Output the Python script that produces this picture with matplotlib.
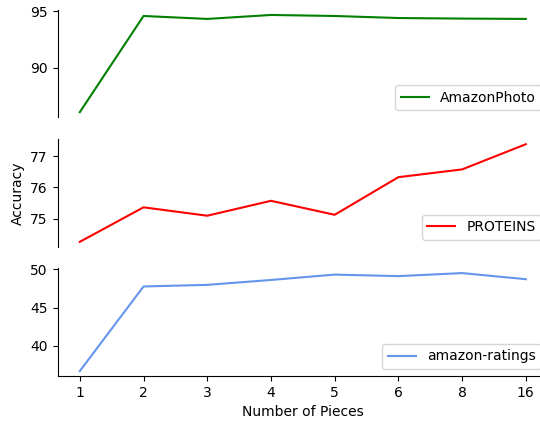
import numpy as np
import matplotlib
matplotlib.use("Agg")
import matplotlib.pyplot as plt

# Data
# =============================================================================
pieces = ['1', '2', '3', '4', '5', '6', '8', '16']

amazon_photo   = [86.05, 94.56, 94.3, 94.65, 94.56, 94.38, 94.33, 94.3]
proteins       = [74.25, 75.36, 75.09, 75.57, 75.12, 76.33, 76.58, 77.39]
amazon_ratings = [36.7, 47.75, 47.96, 48.6, 49.3, 49.1, 49.5, 48.7]

series = [
    (amazon_photo, 'AmazonPhoto', 'green', [90, 95]),
    (proteins, 'PROTEINS', 'red', [75, 76, 77]),
    (amazon_ratings, 'amazon-ratings', 'cornflowerblue', [40, 45, 50]),
]

# Plot
# =============================================================================
plt.rcParams['font.size'] = 10
fig = plt.figure(figsize=(5.4, 4.21), dpi=100)

# axes boxes [left, bottom, width, height]
boxes = [
    [0.1065, 0.722, 0.9085, 0.254],
    [0.1065, 0.414, 0.9085, 0.255],
    [0.1065, 0.107, 0.9085, 0.256],
]

x = np.arange(len(pieces))
for i, (vals, name, col, ticks) in enumerate(series):
    ax = fig.add_axes(boxes[i])
    ax.plot(x, vals, color=col, linewidth=1.5, label=name)
    ax.set_yticks(ticks)
    ax.spines['top'].set_visible(False)
    ax.spines['right'].set_visible(False)
    ax.set_xticks(x)
    if i < 2:
        ax.spines['bottom'].set_visible(False)
        ax.tick_params(axis='x', bottom=False, labelbottom=False)
    else:
        ax.set_xticklabels(pieces)
        ax.set_xlabel('Number of Pieces')
    if i == 1:
        ax.set_ylabel('Accuracy')
    ax.legend(loc='lower right')

fig.savefig('out.png', dpi=100)
